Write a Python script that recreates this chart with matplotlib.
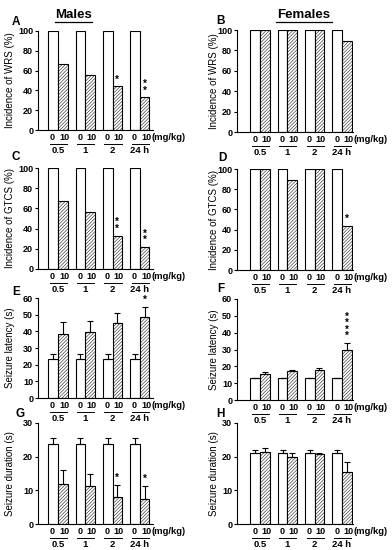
import numpy as np
import matplotlib.pyplot as plt
from matplotlib.transforms import ScaledTranslation
from matplotlib.lines import Line2D

plt.rcParams['font.family'] = ['Liberation Sans', 'DejaVu Sans']
plt.rcParams['font.weight'] = 'bold'
plt.rcParams['hatch.linewidth'] = 0.35

groups = ['0.5', '1', '2', '24 h']
doses = ['0', '10']

# A: males WRS, B: females WRS
wrs_m_veh = [100, 100, 100, 100]
wrs_m_trt = [67, 56, 44, 33]
wrs_f_veh = [100, 100, 100, 100]
wrs_f_trt = [100, 100, 100, 89]
# C: males GTCS, D: females GTCS
gtcs_m_veh = [100, 100, 100, 100]
gtcs_m_trt = [67, 56, 33, 22]
gtcs_f_veh = [100, 100, 100, 100]
gtcs_f_trt = [100, 89, 100, 44]
# E / F: seizure latency (mean, sem)
lat_m_veh = [23.5, 23.5, 23.5, 23.5]
lat_m_veh_err = [3, 3, 3, 3]
lat_m_trt = [38.5, 39.5, 45, 48.5]
lat_m_trt_err = [7, 6.8, 6, 6.2]
lat_f_veh = [12.8, 12.8, 12.8, 12.8]
lat_f_veh_err = [0.5, 0.5, 0.5, 0.5]
lat_f_trt = [15.5, 17, 17.7, 30]
lat_f_trt_err = [1, 0.7, 1.3, 4]
# G / H: seizure duration (mean, sem)
dur_m_veh = [23.8, 23.8, 23.8, 23.8]
dur_m_veh_err = [1.7, 1.7, 1.7, 1.7]
dur_m_trt = [12, 11.2, 8, 7.3]
dur_m_trt_err = [4, 3.7, 3.5, 4]
dur_f_veh = [21, 21, 21, 21]
dur_f_veh_err = [1, 1, 1, 1]
dur_f_trt = [21.3, 20, 20.8, 15.3]
dur_f_trt_err = [1.3, 1.2, 0.4, 3.2]

# significance marks per group
stars_a = ['', '', '*', '**']
stars_b = ['', '', '', '']
stars_c = ['', '', '**', '**']
stars_d = ['', '', '', '*']
stars_e = ['', '', '', '*']
stars_f = ['', '', '', '****']
stars_g = ['', '', '*', '*']
stars_h = ['', '', '', '']

fig = plt.figure(figsize=(3.92, 5.5), dpi=100)


def rect(x0, x1, ytop, ybot):
    return [x0 / 392, 1 - ybot / 550, (x1 - x0) / 392, (ybot - ytop) / 550]


def panel(r, veh, trt, veh_err, trt_err, ymax, step, ylabel, stars, xlim,
          letter, letter_xy, label_x):
    ax = fig.add_axes(r)
    x = np.arange(len(groups))
    w = 0.35
    ax.bar(x - w / 2, veh, w, color='white', edgecolor='black', lw=0.8)
    ax.bar(x + w / 2, trt, w, color='white', edgecolor='black', lw=0.8,
           hatch='/' * 10)
    if veh_err is not None:
        ax.errorbar(x - w / 2, veh, yerr=[np.zeros(4), veh_err], fmt='none',
                    ecolor='black', elinewidth=0.8, capsize=2, capthick=0.8)
        ax.errorbar(x + w / 2, trt, yerr=[np.zeros(4), trt_err], fmt='none',
                    ecolor='black', elinewidth=0.8, capsize=2, capthick=0.8)
    for i, s in enumerate(stars):
        if s:
            top = trt[i] + (trt_err[i] if trt_err is not None else 0)
            ax.text(x[i] + w / 2, top + ymax * 0.02, '\n'.join(s),
                    ha='center', va='bottom', fontsize=7, linespacing=0.55)
    ax.set_xlim(*xlim)
    ax.set_ylim(0, ymax)
    ax.set_yticks(np.arange(0, ymax + 1, step))
    for sp in ['top', 'right']:
        ax.spines[sp].set_visible(False)
    for sp in ['left', 'bottom']:
        ax.spines[sp].set_linewidth(0.8)
    # dose labels: "0" under the white bar, "10" slightly right of hatched centre
    ax.set_xticks(np.r_[x - w / 2 - 0.02, x + w / 2 + 0.05])
    ax.set_xticklabels([doses[0]] * 4 + [doses[1]] * 4)
    ax.tick_params(axis='x', length=0, pad=2.5, labelsize=6.5)
    ax.tick_params(axis='y', length=2.5, width=0.8, labelsize=6.5, pad=1)
    ax.set_ylabel(ylabel, fontsize=7)
    ax.yaxis.set_label_coords(label_x, 0.5)
    tr = ax.get_xaxis_transform()
    line_tr = tr + ScaledTranslation(0, -14 / 100, fig.dpi_scale_trans)
    for i, g in enumerate(groups):
        ax.add_line(Line2D([x[i] - w * 0.85, x[i] + w * 0.95], [0, 0],
                           transform=line_tr, color='black', lw=0.7,
                           clip_on=False))
        ax.annotate(g, (x[i], 0), xycoords=tr, xytext=(0, -11.3),
                    textcoords='offset points', ha='center', va='top',
                    fontsize=6.8)
    ax.annotate('(mg/kg)', (x[-1] + w * 1.2, 0), xycoords=tr,
                xytext=(0, -2.0), textcoords='offset points', ha='left',
                va='top', fontsize=6.8)
    fig.text(letter_xy[0] / 392, 1 - letter_xy[1] / 550, letter,
             fontsize=8.5, ha='left', va='center')
    return ax


lx = (-0.73, 3.48)
rx = (-0.84, 3.40)
lab_l = -23 / 115
lab_r = -18 / 116

panel(rect(38, 153, 31, 130), wrs_m_veh, wrs_m_trt, None, None, 100, 20,
      'Incidence of WRS (%)', stars_a, lx, 'A', (12, 22), lab_l)
panel(rect(237, 353, 30, 132), wrs_f_veh, wrs_f_trt, None, None, 100, 20,
      'Incidence of WRS (%)', stars_b, rx, 'B', (216, 21), lab_r)
panel(rect(38, 153, 168, 269), gtcs_m_veh, gtcs_m_trt, None, None, 100, 20,
      'Incidence of GTCS (%)', stars_c, lx, 'C', (12, 157), lab_l)
panel(rect(237, 353, 169, 270), gtcs_f_veh, gtcs_f_trt, None, None, 100, 20,
      'Incidence of GTCS (%)', stars_d, rx, 'D', (218, 158), lab_r)
panel(rect(38, 153, 298, 398), lat_m_veh, lat_m_trt, lat_m_veh_err,
      lat_m_trt_err, 60, 10, 'Seizure latency (s)', stars_e, lx, 'E',
      (12, 292), lab_l)
panel(rect(237, 353, 299, 400), lat_f_veh, lat_f_trt, lat_f_veh_err,
      lat_f_trt_err, 60, 10, 'Seizure latency (s)', stars_f, rx, 'F',
      (217, 289), lab_r)
panel(rect(38, 153, 423, 524), dur_m_veh, dur_m_trt, dur_m_veh_err,
      dur_m_trt_err, 30, 10, 'Seizure duration (s)', stars_g, lx, 'G',
      (15, 414), lab_l)
panel(rect(237, 353, 423, 524), dur_f_veh, dur_f_trt, dur_f_veh_err,
      dur_f_trt_err, 30, 10, 'Seizure duration (s)', stars_h, rx, 'H',
      (216, 414), lab_r)

fig.text(73 / 392, 1 - 15 / 550, 'Males', fontsize=9.5, ha='center',
         va='center')
fig.text(304 / 392, 1 - 15 / 550, 'Females', fontsize=9.5, ha='center',
         va='center')
for cx, wd in [(73, 37), (304, 56)]:
    fig.add_artist(Line2D([(cx - wd / 2) / 392, (cx + wd / 2) / 392],
                          [1 - 22 / 550, 1 - 22 / 550], color='black',
                          lw=0.9))

fig.savefig('out.png', dpi=100)
